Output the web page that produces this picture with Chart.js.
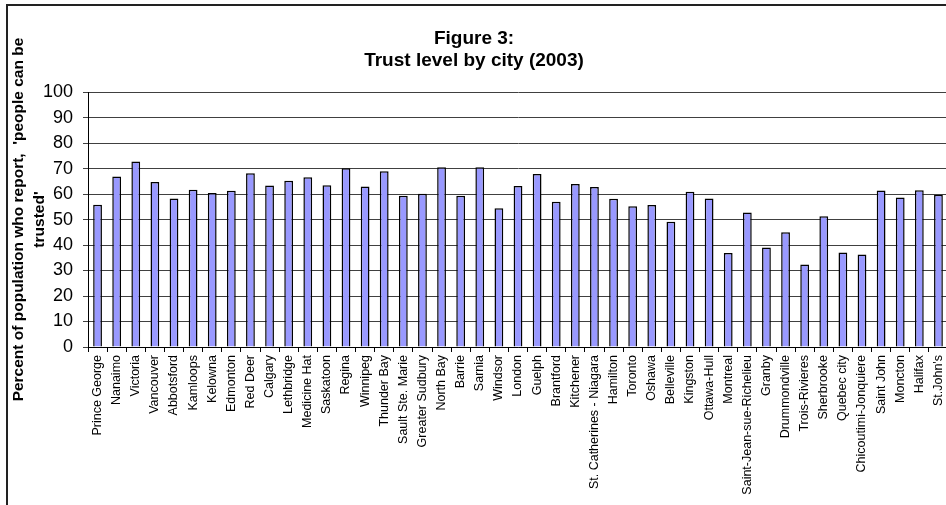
<!DOCTYPE html>
<html>
<head>
<meta charset="utf-8">
<script src="https://cdn.jsdelivr.net/npm/chart.js@4"></script>
<style>
  html, body { margin: 0; padding: 0; background: #fff; overflow: hidden; }
  #wrap { position: relative; width: 960px; height: 505px; }
  #frame {
    position: absolute; left: 6px; top: 4px; right: 0; bottom: -10px;
    border-left: 2px solid #222; border-top: 2px solid #222;
    pointer-events: none;
  }
</style>
</head>
<body>
<div id="wrap">
  <canvas id="chart" width="960" height="505"></canvas>
  <div id="frame"></div>
</div>
<script>
var cities = [
	"Prince George", "Nanaimo", "Victoria", "Vancouver", "Abbotsford", "Kamloops",
	"Kelowna", "Edmonton", "Red Deer", "Calgary", "Lethbridge", "Medicine Hat",
	"Saskatoon", "Regina", "Winnipeg", "Thunder Bay", "Sault Ste. Marie",
	"Greater Sudbury", "North Bay", "Barrie", "Sarnia", "Windsor", "London",
	"Guelph", "Brantford", "Kitchener", "St. Catherines - Niagara", "Hamilton",
	"Toronto", "Oshawa", "Belleville", "Kingston", "Ottawa-Hull", "Montreal",
	"Saint-Jean-sue-Richelieu", "Granby", "Drummondville", "Trois-Rivieres",
	"Sherbrooke", "Quebec city", "Chicoutimi-Jonquiere", "Saint John", "Moncton",
	"Halifax", "St.John's"
];

// percent who say people can be trusted
var trust = [
	55.8, 66.9, 72.8, 64.7, 58.3, 61.7,
	60.4, 61.3, 68.2, 63.4, 65.2, 66.6,
	63.5, 70.1, 63.0, 68.9, 59.3,
	60.1, 70.5, 59.3, 70.5, 54.4, 63.2,
	67.9, 57.0, 63.9, 62.8, 58.2,
	55.2, 55.7, 49.1, 60.9, 58.3, 36.9,
	52.8, 39.0, 45.0, 32.4,
	51.3, 37.1, 36.3, 61.4, 58.6,
	61.5, 59.7
];

var titleLines = ["Figure 3:", "Trust level by city (2003)"];
var yTitleLines = ["Percent of population who report,  'people can be", "trusted'"];
var yMin = 0, yMax = 100, yStep = 10;

var font = "'Liberation Sans', Arial, sans-serif";

var ctx = document.getElementById('chart').getContext('2d');
var chart = new Chart(ctx, {
	type: 'bar',
	data: {
		labels: cities,
		datasets: [{
			label: 'Trust',
			data: trust,
			backgroundColor: '#9999ff',
			borderColor: '#000',
			borderWidth: 1.5,
			barPercentage: 0.46,
			categoryPercentage: 1.0
		}]
	},
	options: {
		responsive: false,
		animation: false,
		layout: { padding: { left: 0, right: 12, top: 0, bottom: 0 } },
		plugins: {
			legend: { display: false },
			tooltip: { enabled: false },
			title: {
				display: true,
				text: titleLines,
				color: '#000',
				font: { family: font, size: 19, weight: 'bold', lineHeight: 1.16 },
				padding: { top: 27.5, bottom: 20.5 }
			}
		},
		scales: {
			x: {
				grid: {
					offset: true,
					drawOnChartArea: false,
					drawTicks: true,
					tickLength: 5,
					color: '#000'
				},
				border: { display: true, color: '#000', width: 1 },
				ticks: {
					color: '#000',
					font: { family: font, size: 12.5 },
					minRotation: 90,
					maxRotation: 90,
					autoSkip: false,
					padding: 3
				},
				afterFit: function (scale) { scale.height = 158; }
			},
			y: {
				min: yMin,
				max: yMax,
				grid: {
					color: '#404040',
					lineWidth: 1,
					tickLength: 5
				},
				border: { display: true, color: '#000', width: 1 },
				ticks: {
					stepSize: yStep,
					color: '#000',
					font: { family: font, size: 18 },
					padding: 10
				},
				title: {
					display: true,
					text: yTitleLines,
					color: '#000',
					font: { family: font, size: 15.5, weight: 'bold', lineHeight: 1.3 },
					padding: { top: 9, bottom: 0 }
				},
				afterFit: function (scale) { scale.width = 88; }
			}
		}
	}
});
</script>
</body>
</html>
